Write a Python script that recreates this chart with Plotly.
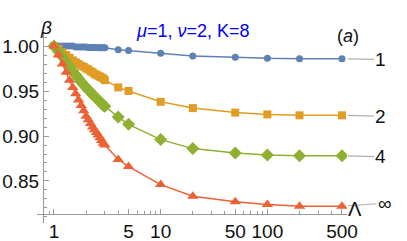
import math
import plotly.graph_objects as go

# ---- data ----
lam = [1.0, 1.1, 1.2, 1.3, 1.4, 1.5, 1.6, 1.7, 1.8, 1.9, 2.0, 2.1, 2.2, 2.3, 2.4,
       2.5, 2.6, 2.7, 2.8, 2.9, 3.0, 4, 5, 10, 20, 50, 100, 200, 500]

beta_1 = [1.000, 1.000, 1.000, 1.000, 1.000, 1.000, 0.999, 0.999, 0.999, 0.999, 0.999,
          0.9985, 0.9985, 0.9985, 0.9985, 0.9985, 0.998, 0.998, 0.998, 0.998, 0.998,
          0.996, 0.995, 0.992, 0.989, 0.9875, 0.9863, 0.986, 0.986]
beta_2 = [1.000, 0.997, 0.993, 0.990, 0.987, 0.984, 0.982, 0.980, 0.978, 0.977, 0.975,
          0.974, 0.972, 0.971, 0.969, 0.968, 0.967, 0.966, 0.965, 0.964, 0.962,
          0.954, 0.950, 0.938, 0.931, 0.926, 0.924, 0.923, 0.923]
beta_4 = [1.000, 0.994, 0.988, 0.982, 0.977, 0.972, 0.968, 0.964, 0.960, 0.957, 0.954,
          0.951, 0.949, 0.946, 0.944, 0.942, 0.940, 0.938, 0.936, 0.934, 0.933,
          0.921, 0.913, 0.896, 0.886, 0.881, 0.879, 0.878, 0.878]
beta_inf = [1.000, 0.990, 0.980, 0.971, 0.962, 0.954, 0.947, 0.940, 0.934, 0.928, 0.922,
            0.918, 0.914, 0.910, 0.907, 0.904, 0.901, 0.898, 0.895, 0.892, 0.890,
            0.874, 0.866, 0.846, 0.833, 0.827, 0.824, 0.822, 0.822]

series_names = ["1", "2", "4", "\u221e"]
series_values = [beta_1, beta_2, beta_4, beta_inf]
series_colors = ["#5E81B5", "#E19C24", "#8FB032", "#EB6235"]
series_symbols = ["circle", "square", "diamond", "triangle-up"]
series_sizes = [7, 8, 10, 10]

x_major = [1, 5, 10, 50, 100, 500]
x_minor = [0.8, 0.9, 2, 3, 4, 6, 7, 8, 9, 20, 30, 40, 60, 70, 80, 90, 200, 300, 400, 600]
y_major = [0.85, 0.90, 0.95, 1.00]

FONT = "Liberation Sans, Arial, sans-serif"
AXIS_COLOR = "#9a9a9a"

W, H = 407, 241
# plot area in window pixels: x 37..347, y 32..223
L, T = 37, 32
R, B = W - 347, H - 223
pw, ph = W - L - R, H - T - B

def px(xp):
    return (xp - L) / pw

def py(yp):
    return (H - B - yp) / ph

fig = go.Figure()
for name, vals, col, sym, sz in zip(series_names, series_values, series_colors,
                                    series_symbols, series_sizes):
    fig.add_trace(go.Scatter(
        x=lam, y=vals, mode="lines+markers", name=name,
        line=dict(color=col, width=1.5),
        marker=dict(color=col, symbol=sym, size=sz, line=dict(width=0)),
        showlegend=False,
    ))

# right-side labels with gray leader lines
label_offsets = [(39, 1), (39, 1), (39, 1), (43, -3)]
for name, vals, (ax, ay) in zip(series_names, series_values, label_offsets):
    fig.add_annotation(
        x=math.log10(lam[-1]), y=vals[-1], xref="x", yref="y",
        text=name, showarrow=True, arrowhead=0, arrowwidth=1.2,
        arrowcolor="#b0b0b0", ax=ax, ay=ay, standoff=6,
        font=dict(family=FONT, size=19, color="#111"),
    )

fig.add_annotation(x=px(192), y=py(19), xref="paper", yref="paper",
                   text="<i>\u03bc</i>=1, <i>\u03bd</i>=2, K=8", showarrow=False,
                   font=dict(family=FONT, size=18, color="#0000ff"))
fig.add_annotation(x=px(361), y=py(24), xref="paper", yref="paper",
                   text="(<i>a</i>)", showarrow=False,
                   font=dict(family=FONT, size=18, color="#111"))
fig.add_annotation(x=px(38), y=py(15), xref="paper", yref="paper",
                   text="<i>\u03b2</i>", showarrow=False,
                   font=dict(family=FONT, size=19, color="#111"))
fig.add_annotation(x=px(364), y=py(222), xref="paper", yref="paper",
                   text="\u039b", showarrow=False,
                   font=dict(family=FONT, size=20, color="#111"))

fig.update_layout(
    width=W, height=H,
    margin=dict(l=L, r=R, t=T, b=B, autoexpand=False),
    paper_bgcolor="white", plot_bgcolor="white",
    font=dict(family=FONT, size=18, color="#111"),
    xaxis=dict(
        type="log", range=[-0.159, 2.746], automargin=False,
        anchor="free", position=py(214),
        showline=True, linecolor=AXIS_COLOR, linewidth=1,
        showgrid=False, zeroline=False,
        tickmode="array", tickvals=x_major, ticktext=[str(v) for v in x_major],
        ticks="inside", ticklen=5, tickcolor=AXIS_COLOR, tickwidth=1,
        minor=dict(tickmode="array", tickvals=x_minor, ticks="inside",
                   ticklen=3, tickcolor=AXIS_COLOR, showgrid=False),
        tickfont=dict(family=FONT, size=19, color="#111"),
    ),
    yaxis=dict(
        range=[0.8033, 1.0156], automargin=False,
        anchor="free", position=px(43),
        showline=True, linecolor=AXIS_COLOR, linewidth=1,
        showgrid=False, zeroline=False,
        tickmode="array", tickvals=y_major, tickformat=".2f",
        ticks="inside", ticklen=5, tickcolor=AXIS_COLOR, tickwidth=1,
        minor=dict(dtick=0.01, ticks="inside", ticklen=3,
                   tickcolor=AXIS_COLOR, showgrid=False),
        tickfont=dict(family=FONT, size=19, color="#111"),
    ),
)

# remove the default 8px page margin so the figure sits at the window's corner
fig.write_html("out.html",
               config={"displayModeBar": False, "staticPlot": True},
               post_script="document.body.style.margin='0px';"
                           "document.body.style.overflow='hidden';")
